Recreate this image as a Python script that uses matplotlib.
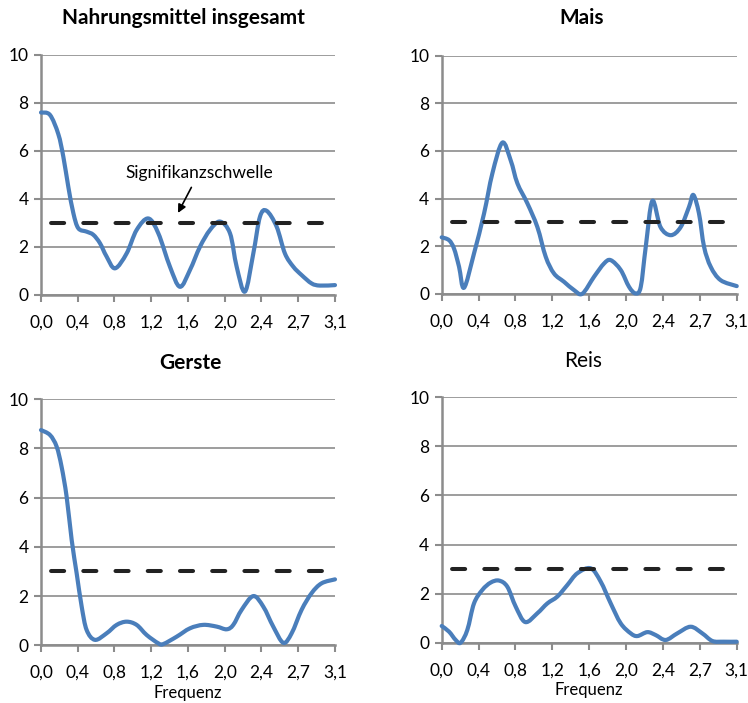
import matplotlib

matplotlib.use("Agg")
import matplotlib.pyplot as plt
import numpy as np
from matplotlib.patches import PathPatch
from matplotlib.path import Path

plt.rcParams["font.family"] = ["Lato", "DejaVu Sans"]

# periodogram values (frequency in radians)
NAHRUNG_FREQ = [0.0, 0.096, 0.185, 0.239, 0.292, 0.346, 0.399, 0.488, 0.559, 0.63, 0.70,
                0.791, 0.915, 1.022, 1.147, 1.254, 1.378, 1.485, 1.592, 1.699, 1.806,
                1.913, 2.020, 2.091, 2.180, 2.269, 2.340, 2.411, 2.518, 2.607, 2.696,
                2.785, 2.892, 2.981, 3.142]
NAHRUNG_VALUES = [7.6, 7.5, 6.7, 5.75, 4.5, 3.4, 2.77, 2.63, 2.5, 2.15, 1.6,
                  1.1, 1.72, 2.7, 3.18, 2.56, 1.17, 0.33, 1.03, 2.0, 2.7,
                  3.05, 2.56, 1.17, 0.13, 1.72, 3.25, 3.5, 2.84, 1.72, 1.17,
                  0.82, 0.47, 0.38, 0.40]

MAIS_FREQ = [0.0, 0.078, 0.131, 0.185, 0.238, 0.344, 0.451, 0.540, 0.646, 0.735,
             0.806, 0.912, 1.019, 1.108, 1.196, 1.303, 1.410, 1.498, 1.622, 1.729,
             1.800, 1.906, 1.995, 2.066, 2.120, 2.173, 2.243, 2.330, 2.440, 2.545,
             2.634, 2.680, 2.740, 2.794, 2.865, 2.970, 3.142]
MAIS_VALUES = [2.37, 2.25, 1.9, 1.13, 0.25, 1.69, 3.37, 5.06, 6.35, 5.6,
               4.64, 3.8, 2.8, 1.55, 0.85, 0.5, 0.15, 0.0, 0.71, 1.27,
               1.41, 1.0, 0.29, 0.01, 0.29, 1.97, 3.9, 2.8, 2.46, 2.8,
               3.65, 4.15, 3.37, 1.97, 1.13, 0.57, 0.32]

GERSTE_FREQ = [0.0, 0.096, 0.167, 0.220, 0.274, 0.328, 0.381, 0.435, 0.488, 0.577,
               0.702, 0.809, 0.915, 1.022, 1.129, 1.254, 1.307, 1.450, 1.592, 1.735,
               1.877, 1.984, 2.055, 2.144, 2.269, 2.376, 2.482, 2.590, 2.679, 2.785,
               2.892, 2.999, 3.142]
GERSTE_VALUES = [8.75, 8.55, 8.08, 7.26, 6.04, 4.28, 2.93, 1.57, 0.62, 0.22,
                 0.49, 0.83, 0.96, 0.83, 0.42, 0.08, 0.05, 0.35, 0.69, 0.83,
                 0.76, 0.65, 0.83, 1.44, 2.0, 1.57, 0.76, 0.1, 0.49, 1.44,
                 2.12, 2.52, 2.68]

REIS_FREQ = [0.0, 0.078, 0.149, 0.202, 0.273, 0.344, 0.433, 0.522, 0.611, 0.699,
             0.788, 0.890, 1.019, 1.125, 1.232, 1.338, 1.445, 1.587, 1.693, 1.800,
             1.906, 2.013, 2.084, 2.190, 2.279, 2.385, 2.509, 2.651, 2.775, 2.882,
             3.000, 3.142]
REIS_VALUES = [0.68, 0.45, 0.11, 0.0, 0.52, 1.6, 2.15, 2.45, 2.53, 2.28,
               1.47, 0.84, 1.2, 1.6, 1.88, 2.35, 2.83, 3.03, 2.49, 1.6,
               0.79, 0.38, 0.27, 0.43, 0.31, 0.11, 0.38, 0.65, 0.38, 0.07,
               0.04, 0.04]

TITLES = ["Nahrungsmittel insgesamt", "Mais", "Gerste", "Reis"]
TITLE_BOLD = [True, True, True, False]
THRESHOLD = 3.0
X_TICKS = np.pi * np.arange(9) / 8
Y_TICKS = [0, 2, 4, 6, 8, 10]

BLUE = "#4a7ebb"
GRID = "#8c8c8c"


def smooth_path(x, y):
    # Catmull-Rom style smoothing like Excel's "smoothed line"
    pts = np.column_stack([x, y])
    padded = np.vstack([pts[0], pts, pts[-1]])
    verts = [pts[0]]
    codes = [Path.MOVETO]
    for i in range(len(pts) - 1):
        p0, p1, p2, p3 = padded[i], padded[i + 1], padded[i + 2], padded[i + 3]
        verts += [p1 + (p2 - p0) / 6, p2 - (p3 - p1) / 6, p2]
        codes += [Path.CURVE4] * 3
    return Path(verts, codes)


def style_axes(ax, xlabel=None):
    ax.set_xlim(0, np.pi)
    ax.set_ylim(0, 10)
    ax.set_xticks(X_TICKS)
    ax.set_xticklabels([f"{v:.1f}".replace(".", ",") for v in X_TICKS])
    ax.set_yticks(Y_TICKS)
    ax.tick_params(axis="x", length=5, width=1.5, color=GRID, pad=9, labelsize=12.5)
    ax.tick_params(axis="y", length=5, width=1.5, color=GRID, pad=4, labelsize=12.5)
    ax.grid(axis="y", color=GRID, linewidth=1.2)
    ax.set_axisbelow(True)
    for spine in ("top", "right"):
        ax.spines[spine].set_visible(False)
    for spine in ("left", "bottom"):
        ax.spines[spine].set_color(GRID)
        ax.spines[spine].set_linewidth(1.8)
    if xlabel:
        ax.set_xlabel(xlabel, fontsize=12, labelpad=3)


fig = plt.figure(figsize=(7.48, 7.03), dpi=100)
rects = [
    [0.0548, 0.5808, 0.3930, 0.3410],
    [0.5905, 0.5822, 0.3944, 0.3385],
    [0.0548, 0.0821, 0.3930, 0.3499],
    [0.5905, 0.0858, 0.3944, 0.3491],
]
title_pos = [(0.2447, 0.9744), (0.778, 0.9744), (0.254, 0.4836), (0.7794, 0.4865)]
series = [
    (NAHRUNG_FREQ, NAHRUNG_VALUES),
    (MAIS_FREQ, MAIS_VALUES),
    (GERSTE_FREQ, GERSTE_VALUES),
    (REIS_FREQ, REIS_VALUES),
]

for i, (rect, (freq, vals)) in enumerate(zip(rects, series)):
    ax = fig.add_axes(rect)
    style_axes(ax, "Frequenz" if i >= 2 else None)
    curve = PathPatch(smooth_path(freq, vals), fill=False, edgecolor=BLUE, linewidth=3.0,
                      capstyle="round", joinstyle="round", clip_on=False, zorder=3)
    ax.add_patch(curve)
    ax.axhline(THRESHOLD, color="#222222", linewidth=2.9, linestyle=(5.5, (3.25, 4.75)),
               dash_capstyle="round", zorder=4)
    fig.text(*title_pos[i], TITLES[i], ha="center", va="center", fontsize=15,
             weight="bold" if TITLE_BOLD[i] else "normal")

    if i == 0:
        ax.annotate("Signifikanzschwelle", xy=(1.464, 3.41), xytext=(1.688, 5.08),
                    ha="center", va="center", fontsize=12.5,
                    arrowprops=dict(arrowstyle="-|>", color="black", lw=1.2,
                                    mutation_scale=12, shrinkA=3, shrinkB=0))

fig.savefig("out.png", dpi=100, facecolor="white")
